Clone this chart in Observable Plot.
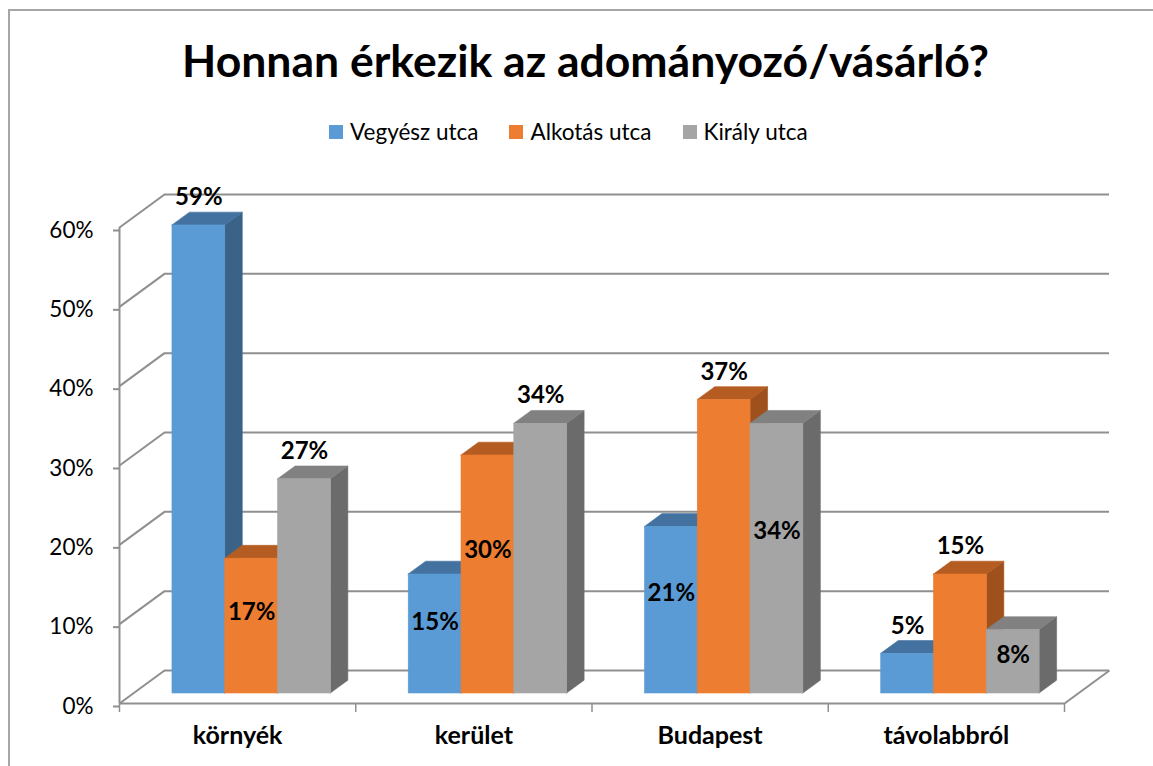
<!DOCTYPE html>
<html>
<head>
<meta charset="utf-8">
<script src="https://cdn.jsdelivr.net/npm/d3@7"></script>
<script src="https://cdn.jsdelivr.net/npm/@observablehq/plot@0.6"></script>
<style>
  body { margin: 0; background: #fff; font-family: Lato, "Open Sans", sans-serif; }
  #wrap { position: relative; width: 1153px; height: 766px; overflow: hidden; background: #fff; }
  #frame { position: absolute; left: 8px; top: 9px; width: 1300px; height: 900px;
           border-left: 2px solid #a6a6a6; border-top: 2px solid #a6a6a6; }
  #title { position: absolute; left: 18px; width: 1135px; top: 38px; text-align: center;
           font-weight: bold; font-size: 44.5px; line-height: 44px; color: #000; white-space: nowrap; }
  #legend { position: absolute; left: 329px; top: 121px; height: 22px; display: flex; align-items: center;
            font-size: 22.5px; line-height: 22px; color: #000; white-space: nowrap; }
  .item { display: flex; align-items: center; margin-right: 31px; }
  .sw { width: 14px; height: 14px; margin-right: 7px; }
  #chart { position: absolute; left: 0; top: 170px; }
</style>
</head>
<body>
<div id="wrap">
  <div id="frame"></div>
  <div id="title"></div>
  <div id="legend"></div>
  <div id="chart"></div>
</div>
<script>
// ---- data ----
const title = "Honnan érkezik az adományozó/vásárló?";
const categories = ["környék", "kerület", "Budapest", "távolabbról"];
const seriesNames = ["Vegyész utca", "Alkotás utca", "Király utca"];
const vegyesz = [59, 15, 21, 5];
const alkotas = [17, 30, 37, 15];
const kiraly  = [27, 34, 34, 8];
const yTicks = [0, 10, 20, 30, 40, 50, 60];
// where each data label sits (above the bar or inside it)
const labelVegyesz = ["above", "inside", "inside", "above"];
const labelAlkotas = ["inside", "inside", "above", "above"];
const labelKiraly  = ["above", "above", "inside", "inside"];

// ---- styles ----
const frontColors = ["#5B9BD5", "#ED7D31", "#A5A5A5"];
const topColors   = ["#4472A0", "#B45C22", "#818181"];
const sideColors  = ["#3B6388", "#9E501D", "#6B6B6B"];
const gridColor = "#8f8f8f";

const W = 1153, H = 596, mL = 119, mR = 89, mT = 57, mB = 63;
const yMax = 60;
const pxX = (W - mL - mR) / categories.length;   // px per category unit
const pxY = (H - mT - mB) / yMax;                // px per percent
const wallDX = 45, wallDY = 33;                  // depth of the box, px
const barOffX = 13.5, barOffY = 10;              // bars' front plane offset, px
const barDX = 17.5, barDY = 12.8;                // bar depth, px
const barStart = 0.167, barW = 0.2235;           // in category units

// header
document.getElementById("title").textContent = title;
const legend = document.getElementById("legend");
seriesNames.forEach((s, j) => {
  const it = document.createElement("div"); it.className = "item";
  const sw = document.createElement("div"); sw.className = "sw"; sw.style.background = frontColors[j];
  const tx = document.createElement("span"); tx.textContent = s;
  it.appendChild(sw); it.appendChild(tx); legend.appendChild(it);
});

// build rows
const values = [vegyesz, alkotas, kiraly];
const places = [labelVegyesz, labelAlkotas, labelKiraly];
const rows = [];
categories.forEach((c, i) => {
  seriesNames.forEach((s, j) => {
    const x1 = i + barStart + j * barW;
    rows.push({cat: c, series: s, j, value: values[j][i], place: places[j][i], x1, x2: x1 + barW, key: c + "|" + s});
  });
});
const ux = barDX / pxX, uy = barDY / pxY;
const wx = wallDX / pxX, wy = wallDY / pxY;

const barMarks = [];
seriesNames.forEach((s, j) => {
  const r = rows.filter(d => d.j === j);
  const side = r.flatMap(d => [
    {k: d.key, x: d.x2, y1: 0, y2: d.value},
    {k: d.key, x: d.x2 + ux, y1: uy, y2: d.value + uy}
  ]);
  const top = r.flatMap(d => [
    {k: d.key, y: d.value, x1: d.x1, x2: d.x2},
    {k: d.key, y: d.value + uy, x1: d.x1 + ux, x2: d.x2 + ux}
  ]);
  barMarks.push(
    Plot.areaY(side, {x: "x", y1: "y1", y2: "y2", z: "k", fill: sideColors[j], stroke: sideColors[j], strokeWidth: 0.6, dx: barOffX, dy: -barOffY}),
    Plot.areaX(top, {y: "y", x1: "x1", x2: "x2", z: "k", fill: topColors[j], stroke: topColors[j], strokeWidth: 0.6, dx: barOffX, dy: -barOffY}),
    Plot.rect(r, {x1: "x1", x2: "x2", y1: 0, y2: "value", fill: frontColors[j], stroke: frontColors[j], strokeWidth: 0.6, dx: barOffX, dy: -barOffY})
  );
});

const chart = Plot.plot({
  width: W, height: H,
  marginLeft: mL, marginRight: mR, marginTop: mT, marginBottom: mB,
  style: {fontFamily: "Lato, sans-serif", fontSize: "22px", color: "#000", overflow: "visible", background: "transparent"},
  x: {domain: [0, categories.length], axis: null},
  y: {domain: [0, yMax], axis: null},
  marks: [
    // back wall gridlines
    Plot.ruleY(yTicks, {y: d => d, x1: 0, x2: categories.length, dx: wallDX, dy: -wallDY, stroke: gridColor, strokeWidth: 2}),
    // side wall gridlines
    Plot.link(yTicks, {x1: 0, y1: d => d, x2: wx, y2: d => d + wy, stroke: gridColor, strokeWidth: 2}),
    // floor right edge
    Plot.link([0], {x1: categories.length, y1: 0, x2: categories.length + wx, y2: wy, stroke: gridColor, strokeWidth: 2}),
    // front axis lines
    Plot.ruleX([0], {y1: 0, y2: yMax, stroke: gridColor, strokeWidth: 2}),
    Plot.ruleY([0], {x1: 0, x2: categories.length, stroke: gridColor, strokeWidth: 2}),
    // category boundary ticks
    Plot.ruleX(d3.range(categories.length + 1), {y1: 0, y2: -9 / pxY, stroke: gridColor, strokeWidth: 1.5}),
    Plot.axisY(yTicks, {tickSize: 6, tickPadding: 20, dy: 3, tickFormat: d => d + "%", stroke: gridColor, strokeWidth: 2, fill: "#000", fontSize: 22.5}),
    Plot.axisX(categories.map((c, i) => i + 0.5), {tickSize: 0, tickPadding: 23, tickFormat: d => categories[Math.floor(d)], fill: "#000", fontSize: 25, fontWeight: "bold"}),
    ...barMarks,
    Plot.text(rows.filter(d => d.place === "above"), {x: d => (d.x1 + d.x2) / 2, y: "value", text: d => d.value + "%", dx: barOffX, dy: -barOffY - 28, fontWeight: "bold", fontSize: 24, fill: "#000"}),
    Plot.text(rows.filter(d => d.place === "inside"), {x: d => (d.x1 + d.x2) / 2, y: d => d.value * 0.6, text: d => d.value + "%", dx: barOffX, dy: -barOffY, fontWeight: "bold", fontSize: 24, fill: "#000"})
  ]
});
document.getElementById("chart").appendChild(chart);
</script>
</body>
</html>
